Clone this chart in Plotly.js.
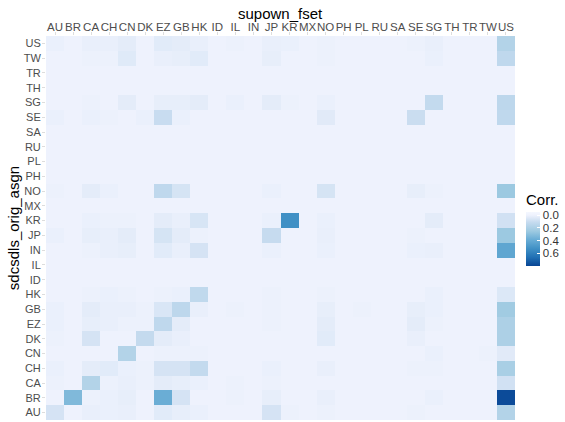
<!DOCTYPE html>
<html>
<head>
<meta charset="utf-8">
<script src="https://cdn.plot.ly/plotly-3.0.1.min.js"></script>
<style>html,body{margin:0;padding:0;background:#fff;}#chart{width:565px;height:422px;}</style>
</head>
<body>
<div id="chart"></div>
<script>
// Column categories (supown_fset)
const xCats = ["AU","BR","CA","CH","CN","DK","EZ","GB","HK","ID","IL","IN","JP","KR","MX","NO","PH","PL","RU","SA","SE","SG","TH","TR","TW","US"];
// Row categories (sdcsdls_orig_asgn), bottom to top
const yCats = ["AU","BR","CA","CH","CN","DK","EZ","GB","HK","ID","IL","IN","JP","KR","MX","NO","PH","PL","RU","SA","SE","SG","TH","TR","TW","US"];

// Correlation values, one array per row, in xCats order
const rowAU = [0.07,0,0.015,0.01,0.015,0,0.035,0.02,0.01,0,0,0,0.07,0.005,0,0.005,0,0,0,0,0.005,0,0,0,0,0.177];
const rowBR = [0,0.327,0.005,0.01,0.02,0,0.385,0.07,0,0,0.005,0,0.02,0,0,0.015,0,0,0,0,0,0.01,0,0,0,0.78];
const rowCA = [0.005,0,0.177,0.005,0.015,0.005,0.028,0.02,0.01,0,0.005,0,0.005,0,0,0,0,0,0,0,0,0,0,0,0,0.08];
const rowCH = [0.01,0,0.028,0.035,0.01,0.005,0.07,0.07,0.12,0,0,0,0.01,0,0,0.015,0,0,0,0,0.005,0.005,0,0,0,0.21];
const rowCN = [0,0,0,0,0.177,0,0.005,0.005,0.005,0,0,0,0,0,0,0,0,0,0,0,0,0.01,0,0,0.005,0.036];
const rowDK = [0.005,0,0.07,0,0,0.117,0.028,0.015,0,0,0,0,0,0,0,0.035,0,0,0,0,0.015,0,0,0,0,0.197];
const rowEZ = [0.01,0,0.02,0.015,0.005,0.005,0.135,0.028,0,0,0,0,0.005,0,0,0.028,0,0,0,0,0.028,0.005,0,0,0,0.197];
const rowGB = [0.01,0,0.028,0.015,0.015,0.005,0.057,0.14,0.015,0,0.005,0,0.005,0,0,0.02,0,0.005,0,0,0.02,0.01,0,0,0,0.24];
const rowHK = [0,0,0.005,0.01,0.005,0,0.005,0.01,0.13,0,0,0,0.005,0,0,0.005,0,0,0,0,0,0.01,0,0,0,0.05];
const rowID = [0,0,0,0,0,0,0,0,0,0,0,0,0,0,0,0,0,0,0,0,0,0,0,0,0,0];
const rowIL = [0,0,0,0,0,0,0,0,0,0,0,0,0,0,0,0,0,0,0,0,0,0,0,0,0,0];
const rowIN = [0,0,0.005,0.015,0.02,0,0.035,0.015,0.07,0,0,0,0.01,0,0,0.01,0,0,0,0,0.01,0.015,0,0,0,0.42];
const rowJP = [0.01,0,0.02,0.015,0.028,0,0.068,0.028,0.005,0,0,0,0.11,0,0,0.015,0,0,0,0,0.005,0,0,0,0,0.255];
const rowKR = [0,0,0.01,0.005,0.005,0,0.028,0.015,0.063,0,0,0,0.01,0.53,0,0.01,0,0,0,0,0,0.028,0,0,0,0.08];
const rowMX = [0,0,0,0,0,0,0,0,0,0,0,0,0,0,0,0,0,0,0,0,0,0,0,0,0,0];
const rowNO = [0.005,0,0.028,0.01,0,0,0.135,0.068,0,0,0,0,0.01,0,0,0.068,0,0,0,0,0.02,0.005,0,0,0,0.255];
const rowPH = [0,0,0,0,0,0,0,0,0,0,0,0,0,0,0,0,0,0,0,0,0,0,0,0,0,0];
const rowPL = [0,0,0,0,0,0,0,0,0,0,0,0,0,0,0,0,0,0,0,0,0,0,0,0,0,0];
const rowRU = [0,0,0,0,0,0,0,0,0,0,0,0,0,0,0,0,0,0,0,0,0,0,0,0,0,0];
const rowSA = [0,0,0,0,0,0,0,0,0,0,0,0,0,0,0,0,0,0,0,0,0,0,0,0,0,0];
const rowSE = [0.01,0,0.01,0.005,0,0.01,0.105,0.01,0,0,0,0,0,0,0,0.036,0,0,0,0,0.1,0,0,0,0,0.135];
const rowSG = [0,0,0.005,0,0.028,0,0.02,0.02,0.028,0,0.01,0,0.028,0.005,0,0.01,0,0,0,0,0,0.12,0,0,0,0.14];
const rowTH = [0,0,0,0,0,0,0,0,0,0,0,0,0,0,0,0,0,0,0,0,0,0,0,0,0,0];
const rowTR = [0,0,0,0,0,0,0,0,0,0,0,0,0,0,0,0,0,0,0,0,0,0,0,0,0,0];
const rowTW = [0,0,0.005,0.005,0.04,0,0.015,0.02,0.035,0,0,0,0.02,0,0,0.005,0,0,0,0,0,0.01,0,0,0,0.135];
const rowUS = [0.01,0,0.015,0.015,0.028,0,0.035,0.028,0.015,0,0.005,0,0.015,0.01,0,0.005,0,0,0,0,0.005,0.015,0,0,0,0.177];

const legendTicks = [0.0, 0.2, 0.4, 0.6];

const rows = [rowAU,rowBR,rowCA,rowCH,rowCN,rowDK,rowEZ,rowGB,rowHK,rowID,rowIL,rowIN,rowJP,rowKR,rowMX,rowNO,rowPH,rowPL,rowRU,rowSA,rowSE,rowSG,rowTH,rowTR,rowTW,rowUS];

// Legend runs 0 at top -> negate values so the colorbar reads downward
const vMin = -0.05, vMax = 0.80;
const stops = [[-0.05,'#f4f7ff'],[0,'#eef2fd'],[0.11,'#c6dbef'],[0.25,'#9ecae1'],[0.38,'#6baed6'],[0.52,'#4292c6'],[0.66,'#2171b5'],[0.80,'#084594']];
const cs = stops.map(s => [(vMax - s[0]) / (vMax - vMin), s[1]]).sort((a,b)=>a[0]-b[0]);
cs[0][0] = 0; cs[cs.length-1][0] = 1;

const z = rows.map(r => r.map(v => -v));
const txt = rows.map(r => r.map(v => v.toFixed(3)));

const font = "Liberation Sans, Arial, Helvetica, sans-serif";

// plot area in pixels: x 46..517, y 36..420
const PL = 46, PR = 517, PT = 36, PB = 420;
const px = v => (v - PL) / (PR - PL);
const py = v => (PB - v) / (PB - PT);

const trace = {
  type: 'heatmap',
  x: xCats, y: yCats, z: z, text: txt,
  hovertemplate: '%{x} / %{y}: %{text}<extra></extra>',
  colorscale: cs,
  zmin: -vMax, zmax: -vMin,
  xgap: 0, ygap: 0,
  colorbar: {
    x: px(528), xanchor: 'left',
    y: py(239), yanchor: 'middle',
    lenmode: 'pixels', len: 54,
    thicknessmode: 'pixels', thickness: 14,
    outlinewidth: 0, xpad: 0, ypad: 0,
    tickvals: legendTicks.map(v => -v),
    ticktext: legendTicks.map(v => v.toFixed(1)),
    ticks: 'inside', ticklen: 3, tickcolor: '#ffffff', tickwidth: 1,
    tickfont: {family: font, size: 11.5, color: '#333333'}
  }
};

const layout = {
  width: 565, height: 422,
  margin: {l: PL, r: 565 - PR, t: PT, b: 422 - PB},
  paper_bgcolor: '#ffffff', plot_bgcolor: '#ffffff',
  font: {family: font},
  xaxis: {
    type: 'category', categoryorder: 'array', categoryarray: xCats,
    side: 'top', showgrid: false, zeroline: false, showline: false,
    tickangle: 0,
    ticks: 'outside', ticklen: 3, tickcolor: '#dddddd',
    ticklabelstandoff: -4,
    tickfont: {family: font, size: 11.5, color: '#4d4d4d'},
    automargin: false
  },
  yaxis: {
    type: 'category', categoryorder: 'array', categoryarray: yCats,
    showgrid: false, zeroline: false, showline: false,
    ticks: 'outside', ticklen: 3, tickcolor: '#dddddd',
    ticklabelstandoff: -1,
    tickfont: {family: font, size: 11, color: '#4d4d4d'},
    automargin: false
  },
  annotations: [
    {text: 'supown_fset', xref: 'paper', yref: 'paper', x: 0.5, y: py(13),
     xanchor: 'center', yanchor: 'middle', showarrow: false,
     font: {family: font, size: 15, color: '#000'}},
    {text: 'sdcsdls_orig_asgn', xref: 'paper', yref: 'paper', x: px(13), y: py(228),
     xanchor: 'center', yanchor: 'middle', showarrow: false, textangle: -90,
     font: {family: font, size: 15, color: '#000'}},
    {text: 'Corr.', xref: 'paper', yref: 'paper', x: px(526), y: py(199),
     xanchor: 'left', yanchor: 'middle', showarrow: false,
     font: {family: font, size: 15, color: '#000'}}
  ]
};

Plotly.newPlot('chart', [trace], layout, {displayModeBar: false, staticPlot: true});
</script>
</body>
</html>
